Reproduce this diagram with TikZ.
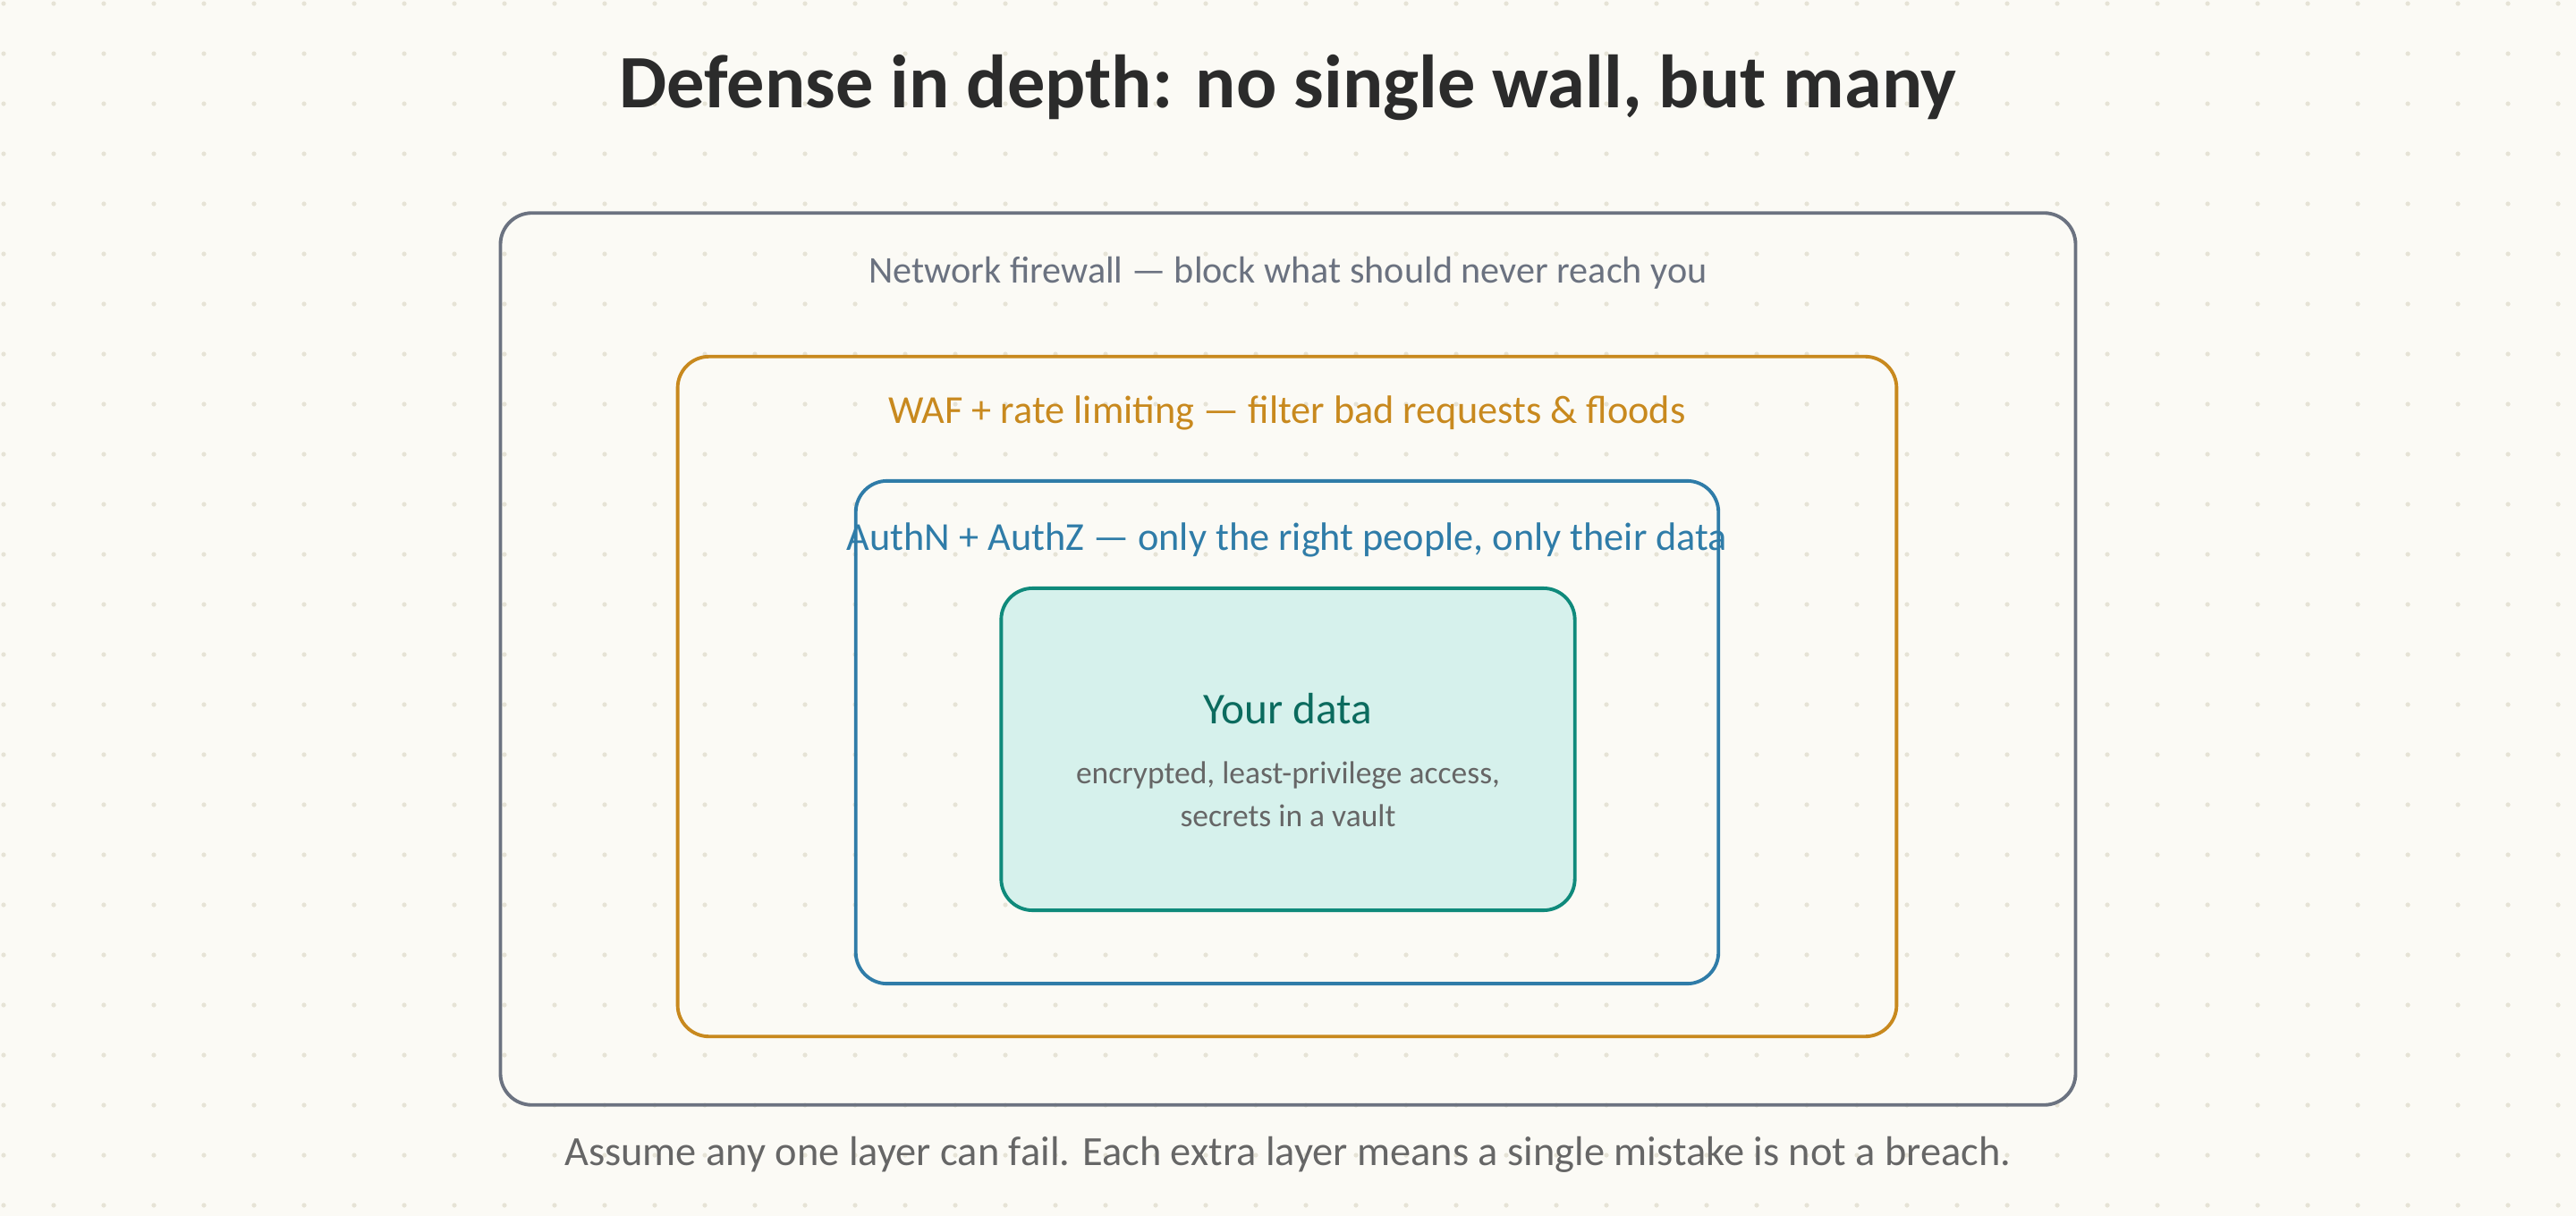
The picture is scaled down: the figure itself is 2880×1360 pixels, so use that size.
\documentclass[tikz,border=0pt]{standalone}
\usepackage{fontspec}
\setmainfont{Carlito}
\usetikzlibrary{positioning}
\definecolor{dfpaper}{HTML}{FBFAF5}
\definecolor{dfdot}{HTML}{E6E3D6}
\definecolor{dfink}{HTML}{2B2B2B}
\definecolor{dfslate}{HTML}{6B7280}
\definecolor{dfamber}{HTML}{C8891E}
\definecolor{dfsteel}{HTML}{2F7CA8}
\definecolor{dfteal}{HTML}{0F8A7B}
\definecolor{dftealfill}{HTML}{D6F1EC}
\definecolor{dftealink}{HTML}{0B6B5E}
\definecolor{dfmuted}{HTML}{666666}

\begin{document}
\begin{tikzpicture}[x=0.01cm, y=-0.01cm,
    layer/.style={draw, line width=1.1pt, rounded corners=10pt, fill=none},
    layertext/.style={font=\fontsize{12.6}{15}\selectfont, inner sep=0pt}]
  % paper and dot grid
  \fill[dfpaper] (0,0) rectangle (2880,1360);
  \useasboundingbox (0,0) rectangle (2880,1360);
  \foreach \gx in {0,...,51} {
    \foreach \gy in {0,...,24} {
      \fill[dfdot] (4+56*\gx, 4+56*\gy) circle (2.6);
    }
  }

  \node[font=\bfseries\fontsize{24}{28}\selectfont, text=dfink] (title) at (1440,98) {Defense in depth: no single wall, but many};

  % nested layers
  \node[layer, draw=dfslate, minimum width=17.6cm, minimum height=9.97cm] (fw) at (1440,737) {};
  \node[layer, draw=dfamber, minimum width=13.62cm, minimum height=7.6cm] (waf) at (1439,779) {};
  \node[layer, draw=dfsteel, minimum width=9.64cm, minimum height=5.62cm] (auth) at (1439,819) {};
  \node[layer, draw=dfteal, fill=dftealfill, minimum width=6.41cm, minimum height=3.6cm] (core) at (1440,838) {};

  \node[layertext, text=dfslate, font=\fontsize{12}{14}\selectfont, below=0.5cm of fw.north] (fwtext) {Network firewall — block what should never reach you};
  \node[layertext, text=dfamber, below=0.45cm of waf.north] (waftext) {WAF + rate limiting — filter bad requests \& floods};
  \node[layertext, text=dfsteel, below=0.48cm of auth.north] (authtext) {AuthN + AuthZ — only the right people, only their data};

  \node[font=\fontsize{14}{16}\selectfont, text=dftealink] (coretitle) at (1440,793) {Your data};
  \node[font=\fontsize{10.1}{13.7}\selectfont, text=dfmuted, align=center, below=0.17cm of coretitle] (corenote) {encrypted, least-privilege access,\\secrets in a vault};

  \node[font=\fontsize{13.2}{16}\selectfont, text=dfmuted] (footer) at (1440,1291) {Assume any one layer can fail. Each extra layer means a single mistake is not a breach.};
\end{tikzpicture}
\end{document}
